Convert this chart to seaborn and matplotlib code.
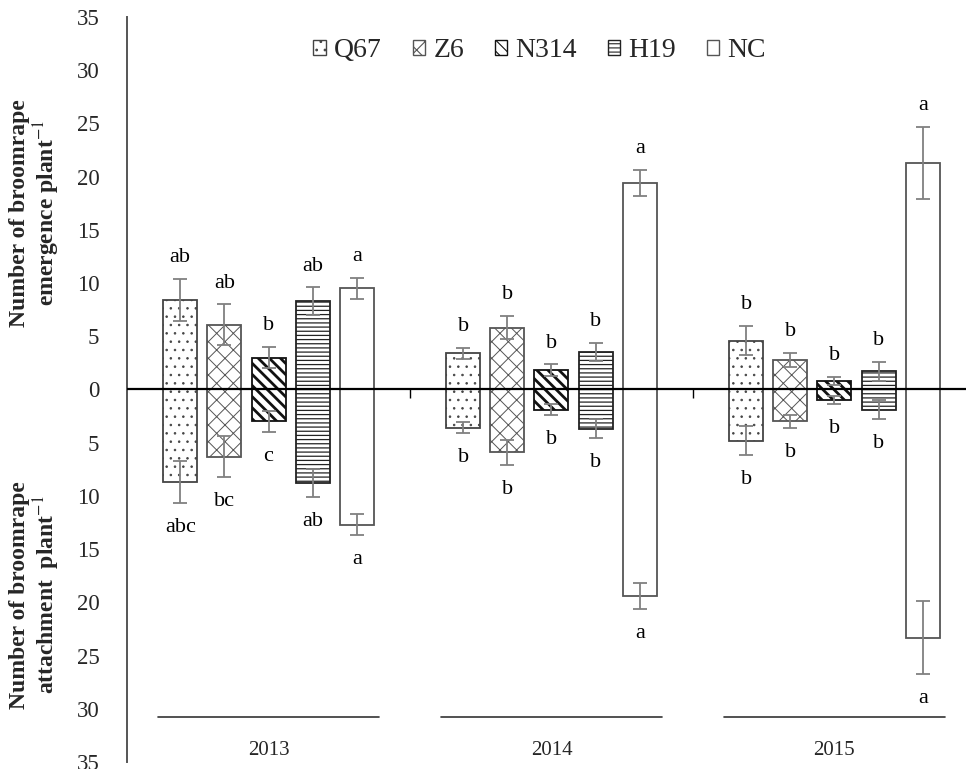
import numpy as np
import pandas as pd
import seaborn as sns
import matplotlib.pyplot as plt
from matplotlib.patches import Patch

# data
years = ['2013', '2014', '2015']
varieties = ['Q67', 'Z6', 'N314', 'H19', 'NC']

# emergence (upper half), per variety across years
emerg_q67 = [8.4, 3.4, 4.6]
emerg_z6 = [6.1, 5.8, 2.8]
emerg_n314 = [3.0, 1.8, 0.8]
emerg_h19 = [8.3, 3.5, 1.7]
emerg_nc = [9.5, 19.4, 21.3]
emerg_err_q67 = [2.0, 0.5, 1.4]
emerg_err_z6 = [1.9, 1.1, 0.65]
emerg_err_n314 = [1.0, 0.55, 0.4]
emerg_err_h19 = [1.3, 0.85, 0.9]
emerg_err_nc = [1.0, 1.2, 3.4]

# attachment (lower half)
attach_q67 = [8.7, 3.6, 4.8]
attach_z6 = [6.3, 5.9, 3.0]
attach_n314 = [3.0, 1.9, 1.0]
attach_h19 = [8.8, 3.7, 1.9]
attach_nc = [12.7, 19.4, 23.3]
attach_err_q67 = [2.0, 0.5, 1.4]
attach_err_z6 = [1.9, 1.2, 0.6]
attach_err_n314 = [1.0, 0.5, 0.4]
attach_err_h19 = [1.3, 0.9, 0.9]
attach_err_nc = [1.0, 1.2, 3.4]

# significance letters
emerg_letters_q67 = ['ab', 'b', 'b']
emerg_letters_z6 = ['ab', 'b', 'b']
emerg_letters_n314 = ['b', 'b', 'b']
emerg_letters_h19 = ['ab', 'b', 'b']
emerg_letters_nc = ['a', 'a', 'a']
attach_letters_q67 = ['abc', 'b', 'b']
attach_letters_z6 = ['bc', 'b', 'b']
attach_letters_n314 = ['c', 'b', 'b']
attach_letters_h19 = ['ab', 'b', 'b']
attach_letters_nc = ['a', 'a', 'a']

emerg = [emerg_q67, emerg_z6, emerg_n314, emerg_h19, emerg_nc]
emerg_err = [emerg_err_q67, emerg_err_z6, emerg_err_n314, emerg_err_h19, emerg_err_nc]
attach = [attach_q67, attach_z6, attach_n314, attach_h19, attach_nc]
attach_err = [attach_err_q67, attach_err_z6, attach_err_n314, attach_err_h19, attach_err_nc]
emerg_letters = [emerg_letters_q67, emerg_letters_z6, emerg_letters_n314, emerg_letters_h19, emerg_letters_nc]
attach_letters = [attach_letters_q67, attach_letters_z6, attach_letters_n314, attach_letters_h19, attach_letters_nc]


def long_table(values, sign):
    rows = []
    for v, vals in zip(varieties, values):
        for y, val in zip(years, vals):
            rows.append({'year': y, 'variety': v, 'value': sign * val})
    return pd.DataFrame(rows)


df_em = long_table(emerg, 1)
df_at = long_table(attach, -1)

sns.set_theme(style='white')
plt.rcParams['font.family'] = ['Liberation Serif', 'DejaVu Serif']
plt.rcParams['mathtext.fontset'] = 'stix'
plt.rcParams['hatch.linewidth'] = 0.8

hatches = ['..', 'xx', '\\\\\\', '----', '']
edges = ['#444444', '#555555', '#111111', '#222222', '#555555']
hatch_lw = [0.6, 0.7, 2.0, 0.9, 0.8]

fig = plt.figure(figsize=(9.66, 7.69), dpi=100)
ax = fig.add_axes([0.1315, 0.009, 0.8685, 0.969])

for df in (df_em, df_at):
    sns.barplot(data=df, x='year', y='value', hue='variety', order=years,
                hue_order=varieties, palette=['white'] * 5, width=0.78, gap=0.23,
                errorbar=None, edgecolor='#444444', linewidth=1.3, legend=False, ax=ax)

# style bars, add error bars and letters
bar_groups = list(ax.containers)
for k, cont in enumerate(bar_groups):
    i = k % 5
    upper = k < 5
    vals = emerg[i] if upper else attach[i]
    errs = emerg_err[i] if upper else attach_err[i]
    letters = emerg_letters[i] if upper else attach_letters[i]
    for j, bar in enumerate(cont):
        bar.set_hatch(hatches[i])
        bar.set_edgecolor(edges[i])
        if hasattr(bar, 'set_hatch_linewidth'):
            bar.set_hatch_linewidth(hatch_lw[i])
        xc = bar.get_x() + bar.get_width() / 2
        yv = vals[j] if upper else -vals[j]
        ax.errorbar(xc, yv, yerr=errs[j], fmt='none', ecolor='#808080',
                    elinewidth=1.3, capsize=5, capthick=1.3, zorder=4)
        off = vals[j] + errs[j] + 2.0
        ax.text(xc, off if upper else -off - 0.3, letters[j], ha='center',
                va='center', fontsize=16, color='black')

ax.axhline(0, color='black', lw=1.6, zorder=5)
ax.vlines([0.5, 1.5], -0.8, 0, color='black', lw=1.0, zorder=5)

# year labels with underline
for g, y in enumerate(years):
    ax.plot([g - 0.39, g + 0.39], [-30.8, -30.8], color='#333333', lw=1.2)
    ax.text(g, -33.9, y, ha='center', va='center', fontsize=15)

ax.set_xlim(-0.5, 2.465)
ax.set_ylim(-35, 35)
ax.set_xticks([])
ticks = np.arange(-35, 36, 5)
ax.set_yticks(ticks)
ax.set_yticklabels([str(abs(t)) for t in ticks], fontsize=16.5)
ax.tick_params(axis='y', direction='out', length=6, width=1.2, color='#555555', pad=14)
ax.set_xlabel('')
ax.set_ylabel('')
for s in ['top', 'right', 'bottom']:
    ax.spines[s].set_visible(False)
ax.spines['left'].set_color('#555555')
ax.spines['left'].set_linewidth(1.4)

handles = [Patch(facecolor='white', edgecolor=edges[i], hatch=hatches[i], linewidth=1.0)
           for i in range(5)]
ax.legend(handles, varieties, loc='center', bbox_to_anchor=(0.492, 0.955), ncol=5,
          frameon=False, fontsize=20, handlelength=0.45, handleheight=0.45,
          handletextpad=0.3, columnspacing=1.1)

fig.text(0.037, 1 - 213 / 769, 'Number of broomrape\nemergence plant$^{-1}$', rotation=90,
         ha='center', va='center', multialignment='center', fontsize=17,
         fontweight='bold', linespacing=1.05)
fig.text(0.037, 1 - 595 / 769, 'Number of broomrape\nattachment  plant$^{-1}$', rotation=90,
         ha='center', va='center', multialignment='center', fontsize=17,
         fontweight='bold', linespacing=1.05)

fig.savefig('out.png', dpi=100)
